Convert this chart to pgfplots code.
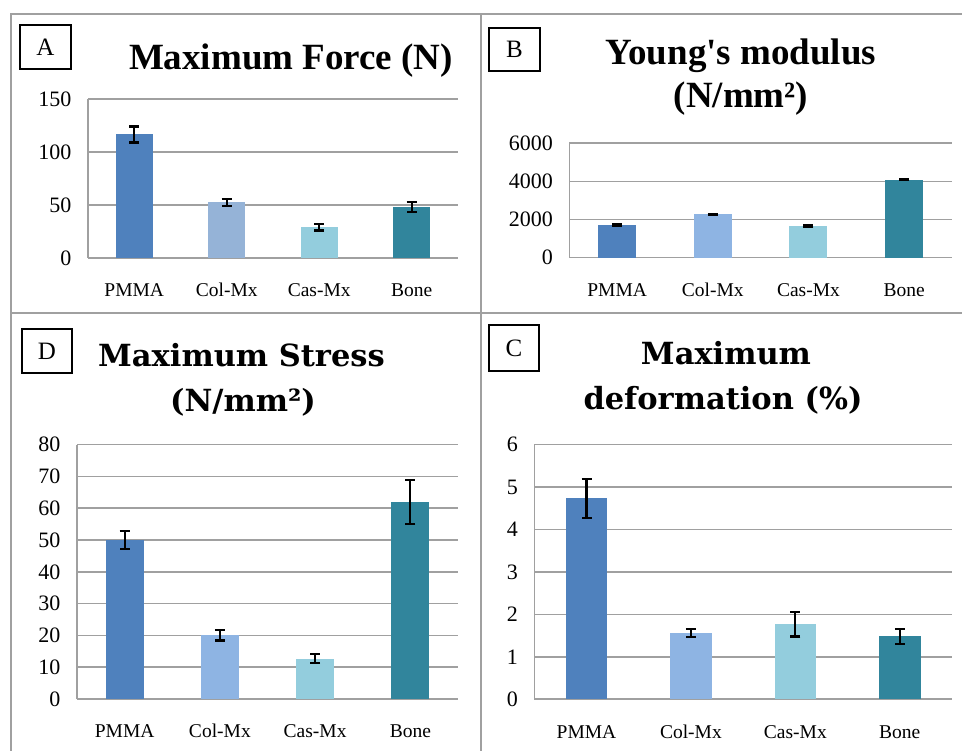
\documentclass[border=0pt]{standalone}
\usepackage{fontspec}
\setmainfont{Liberation Serif}[Ligatures=TeXOff]
\newfontfamily\dvs{DejaVu Serif}
\usepackage{pgfplots}
\pgfplotsset{compat=1.18}
\definecolor{gridgray}{HTML}{A0A0A0}
\definecolor{cPMMA}{HTML}{4F81BD}
\definecolor{cColA}{HTML}{95B3D7}
\definecolor{cCol}{HTML}{8EB4E3}
\definecolor{cCas}{HTML}{93CDDD}
\definecolor{cBone}{HTML}{31859C}
\pgfplotsset{
  every error bar/.style={black, line width=2.2pt},
  panel/.style={anchor=south west, scale only axis, xmin=-0.5, xmax=3.5, ymin=0,
    xtick={0,1,2,3}, xticklabels={PMMA,Col-Mx,Cas-Mx,Bone},
    axis x line*=bottom, axis y line*=left,
    axis line style={-,draw=gridgray,line width=1.6pt},
    ymajorgrids, grid style={draw=gridgray,line width=1.6pt},
    major tick length=0pt, tick style={draw=none},
    yticklabel style={font=\fontsize{22}{26}\selectfont, xshift=-13pt},
    xticklabel style={font=\fontsize{19.5}{23}\selectfont, anchor=base, yshift=-39pt},
    /pgf/number format/assume math mode=true, /pgf/number format/1000 sep={},
    clip=false},
  eb/.style={ybar, bar shift=0pt, draw=none,
    /pgfplots/error bars/y dir=both, /pgfplots/error bars/y explicit,
    /pgfplots/error bars/error mark options={rotate=90, mark size=5pt, black, line width=2.2pt}}
}
\begin{document}
\begin{tikzpicture}
\path[use as bounding box] (0,0) rectangle (962pt,751pt);
% frames
\draw[gridgray, line width=2pt] (11pt,0pt) -- (11pt,737pt) -- (962pt,737pt);
\draw[gridgray, line width=2pt] (481pt,0pt) -- (481pt,737pt);
\draw[gridgray, line width=2pt] (11pt,438pt) -- (962pt,438pt);

% Panel A
\begin{axis}[panel, at={(88pt,493pt)}, width=370pt, height=159pt, ymax=150, ytick={0,50,100,150}, bar width=37pt]
\addplot[eb, fill=cPMMA] coordinates {(0,116.5) +- (0,7.5)};
\addplot[eb, fill=cColA] coordinates {(1,52.5) +- (0,3.5)};
\addplot[eb, fill=cCas] coordinates {(2,29) +- (0,3)};
\addplot[eb, fill=cBone] coordinates {(3,48) +- (0,4.7)};
\end{axis}

% Panel B
\begin{axis}[panel, at={(569.3pt,493.3pt)}, width=382.7pt, height=114.4pt, ymax=6000, ytick={0,2000,4000,6000}, bar width=38pt]
\addplot[eb, fill=cPMMA] coordinates {(0,1715) +- (0,30)};
\addplot[eb, fill=cCol] coordinates {(1,2276) +- (0,30)};
\addplot[eb, fill=cCas] coordinates {(2,1662) +- (0,30)};
\addplot[eb, fill=cBone] coordinates {(3,4091) +- (0,30)};
\end{axis}

% Panel D
\begin{axis}[panel, at={(77pt,52pt)}, width=381pt, height=254.3pt, ymax=80, ytick={0,10,...,80}, bar width=38pt]
\addplot[eb, fill=cPMMA] coordinates {(0,50.0) +- (0,2.8)};
\addplot[eb, fill=cCol] coordinates {(1,20.0) +- (0,1.6)};
\addplot[eb, fill=cCas] coordinates {(2,12.7) +- (0,1.4)};
\addplot[eb, fill=cBone] coordinates {(3,62.0) +- (0,6.9)};
\end{axis}

% Panel C
\begin{axis}[panel, at={(534.3pt,51.7pt)}, width=417.7pt, height=254.6pt, ymax=6, ytick={0,1,...,6}, bar width=41.7pt]
\addplot[eb, fill=cPMMA] coordinates {(0,4.74) +- (0,0.46)};
\addplot[eb, fill=cCol] coordinates {(1,1.56) +- (0,0.10)};
\addplot[eb, fill=cCas] coordinates {(2,1.77) +- (0,0.29)};
\addplot[eb, fill=cBone] coordinates {(3,1.48) +- (0,0.17)};
\end{axis}

% letter boxes
\draw[black, line width=2pt] (20pt,682pt) rectangle (71pt,726pt);
\node[font=\fontsize{25}{28}\selectfont] at (45.5pt,704pt) {A};
\draw[black, line width=2pt] (489pt,680pt) rectangle (540pt,723pt);
\node[font=\fontsize{25}{28}\selectfont] at (514.5pt,701.5pt) {B};
\draw[black, line width=1.5pt] (22pt,378pt) rectangle (72pt,422pt);
\node[font=\fontsize{25}{28}\selectfont] at (47pt,400pt) {D};
\draw[black, line width=2pt] (489pt,380pt) rectangle (539pt,426pt);
\node[font=\fontsize{25}{28}\selectfont] at (514pt,403pt) {C};

% titles
\node[anchor=base, inner sep=0pt, font=\fontsize{37}{40}\selectfont\bfseries] at (291pt,681pt) {Maximum Force (N)};
\node[anchor=base, inner sep=0pt, font=\fontsize{37}{40}\selectfont\bfseries] at (741pt,686pt) {Young's modulus};
\node[anchor=base, inner sep=0pt, font=\fontsize{37}{40}\selectfont\bfseries] at (741pt,643pt) {(N/mm²)};
\node[anchor=base, inner sep=0pt, font=\dvs\fontsize{30.5}{33}\selectfont\bfseries] at (241.5pt,384.3pt) {Maximum Stress};
\node[anchor=base, inner sep=0pt, font=\dvs\fontsize{30.5}{33}\selectfont\bfseries] at (243pt,339.3pt) {(N/mm²)};
\node[anchor=base, inner sep=0pt, font=\dvs\fontsize{30.5}{33}\selectfont\bfseries] at (726pt,386pt) {Maximum};
\node[anchor=base, inner sep=0pt, font=\dvs\fontsize{30.5}{33}\selectfont\bfseries] at (723pt,341pt) {deformation (\%)};
\end{tikzpicture}
\end{document}
